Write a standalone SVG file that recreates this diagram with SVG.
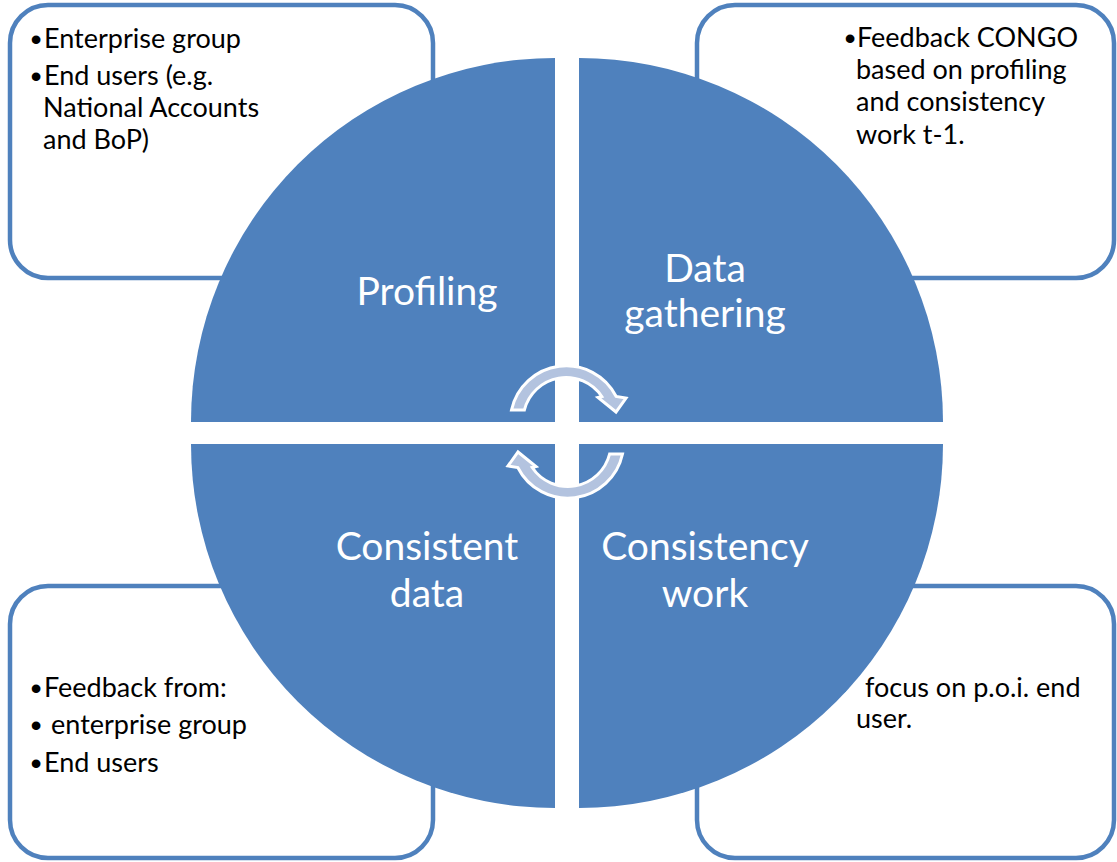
<svg xmlns="http://www.w3.org/2000/svg" width="1117" height="862" viewBox="0 0 1117 862">
  <defs>
    <style>
      .box { fill: #ffffff; stroke: #4f81bd; stroke-width: 4.5; }
      .quad { fill: #4f81bd; }
      .txt { font-family: Lato, "Open Sans", "Liberation Sans", sans-serif; font-size: 27px; fill: #000000; }
      .bul { font-family: "Liberation Sans", Arial, sans-serif; font-size: 32px; fill: #000000; text-anchor: middle; }
      .lbl { font-family: Lato, "Open Sans", "Liberation Sans", sans-serif; font-size: 39px; fill: #ffffff; text-anchor: middle; }
      .cyc { fill: #b3c3df; stroke: #ffffff; stroke-width: 3; stroke-linejoin: miter; }
    </style>
    <!-- curved arrow drawn around its own arc centre -->
    <path id="cycleArrow" d="M -54.5,-11 A 56 56 0 0 1 50.2,-24.5 L 60,-23 L 50,-9 L 32,-23.5 L 35.8,-24.5 A 43 43 0 0 0 -41.6,-11 Z"/>
  </defs>

  <rect width="1117" height="862" fill="#ffffff"/>

  <!-- side boxes -->
  <g id="box-profiling">
    <rect class="box" x="10" y="5" width="423" height="273" rx="38" ry="38"/>
    <text class="bul" x="36" y="50">•</text>
    <text class="txt" x="44" y="48">Enterprise group</text>
    <text class="bul" x="36" y="87">•</text>
    <text class="txt" x="44" y="85">End users (e.g.</text>
    <text class="txt" x="43" y="117">National Accounts</text>
    <text class="txt" x="43" y="149">and BoP)</text>
  </g>

  <g id="box-data-gathering">
    <rect class="box" x="697" y="5" width="417" height="273" rx="38" ry="38"/>
    <text class="bul" x="850" y="49">•</text>
    <text class="txt" x="857" y="47">Feedback CONGO</text>
    <text class="txt" x="856" y="79">based on profiling</text>
    <text class="txt" x="856" y="111">and consistency</text>
    <text class="txt" x="856" y="144">work t-1.</text>
  </g>

  <g id="box-consistent-data">
    <rect class="box" x="10" y="586" width="423" height="272" rx="38" ry="38"/>
    <text class="bul" x="36" y="699">•</text>
    <text class="txt" x="44" y="697">Feedback from:</text>
    <text class="bul" x="36" y="736">•</text>
    <text class="txt" x="51" y="734">enterprise group</text>
    <text class="bul" x="36" y="774">•</text>
    <text class="txt" x="44" y="772">End users</text>
  </g>

  <g id="box-consistency-work">
    <rect class="box" x="697" y="586" width="417" height="272" rx="38" ry="38"/>
    <text class="bul" x="842" y="699">•</text>
    <text class="txt" x="865" y="697">focus on p.o.i. end</text>
    <text class="txt" x="856" y="728">user.</text>
  </g>

  <!-- four quadrants of the cycle -->
  <g id="quad-profiling">
    <path class="quad" d="M 555,422 L 191,422 A 364 364 0 0 1 555,58 Z"/>
    <text class="lbl" x="427" y="305">Profiling</text>
  </g>
  <g id="quad-data-gathering">
    <path class="quad" d="M 579,422 L 579,58 A 364 364 0 0 1 943,422 Z"/>
    <text class="lbl" x="705" y="282">Data</text>
    <text class="lbl" x="705" y="327">gathering</text>
  </g>
  <g id="quad-consistent-data">
    <path class="quad" d="M 555,444 L 555,808 A 364 364 0 0 1 191,444 Z"/>
    <text class="lbl" x="427" y="560">Consistent</text>
    <text class="lbl" x="427" y="607">data</text>
  </g>
  <g id="quad-consistency-work">
    <path class="quad" d="M 579,444 L 943,444 A 364 364 0 0 1 579,808 Z"/>
    <text class="lbl" x="705" y="560">Consistency</text>
    <text class="lbl" x="705" y="607">work</text>
  </g>

  <!-- cycle arrows in the middle -->
  <g id="connectors">
    <use href="#cycleArrow" class="cyc" transform="translate(566,421)"/>
    <use href="#cycleArrow" class="cyc" transform="translate(568,443) rotate(180)"/>
  </g>
</svg>
